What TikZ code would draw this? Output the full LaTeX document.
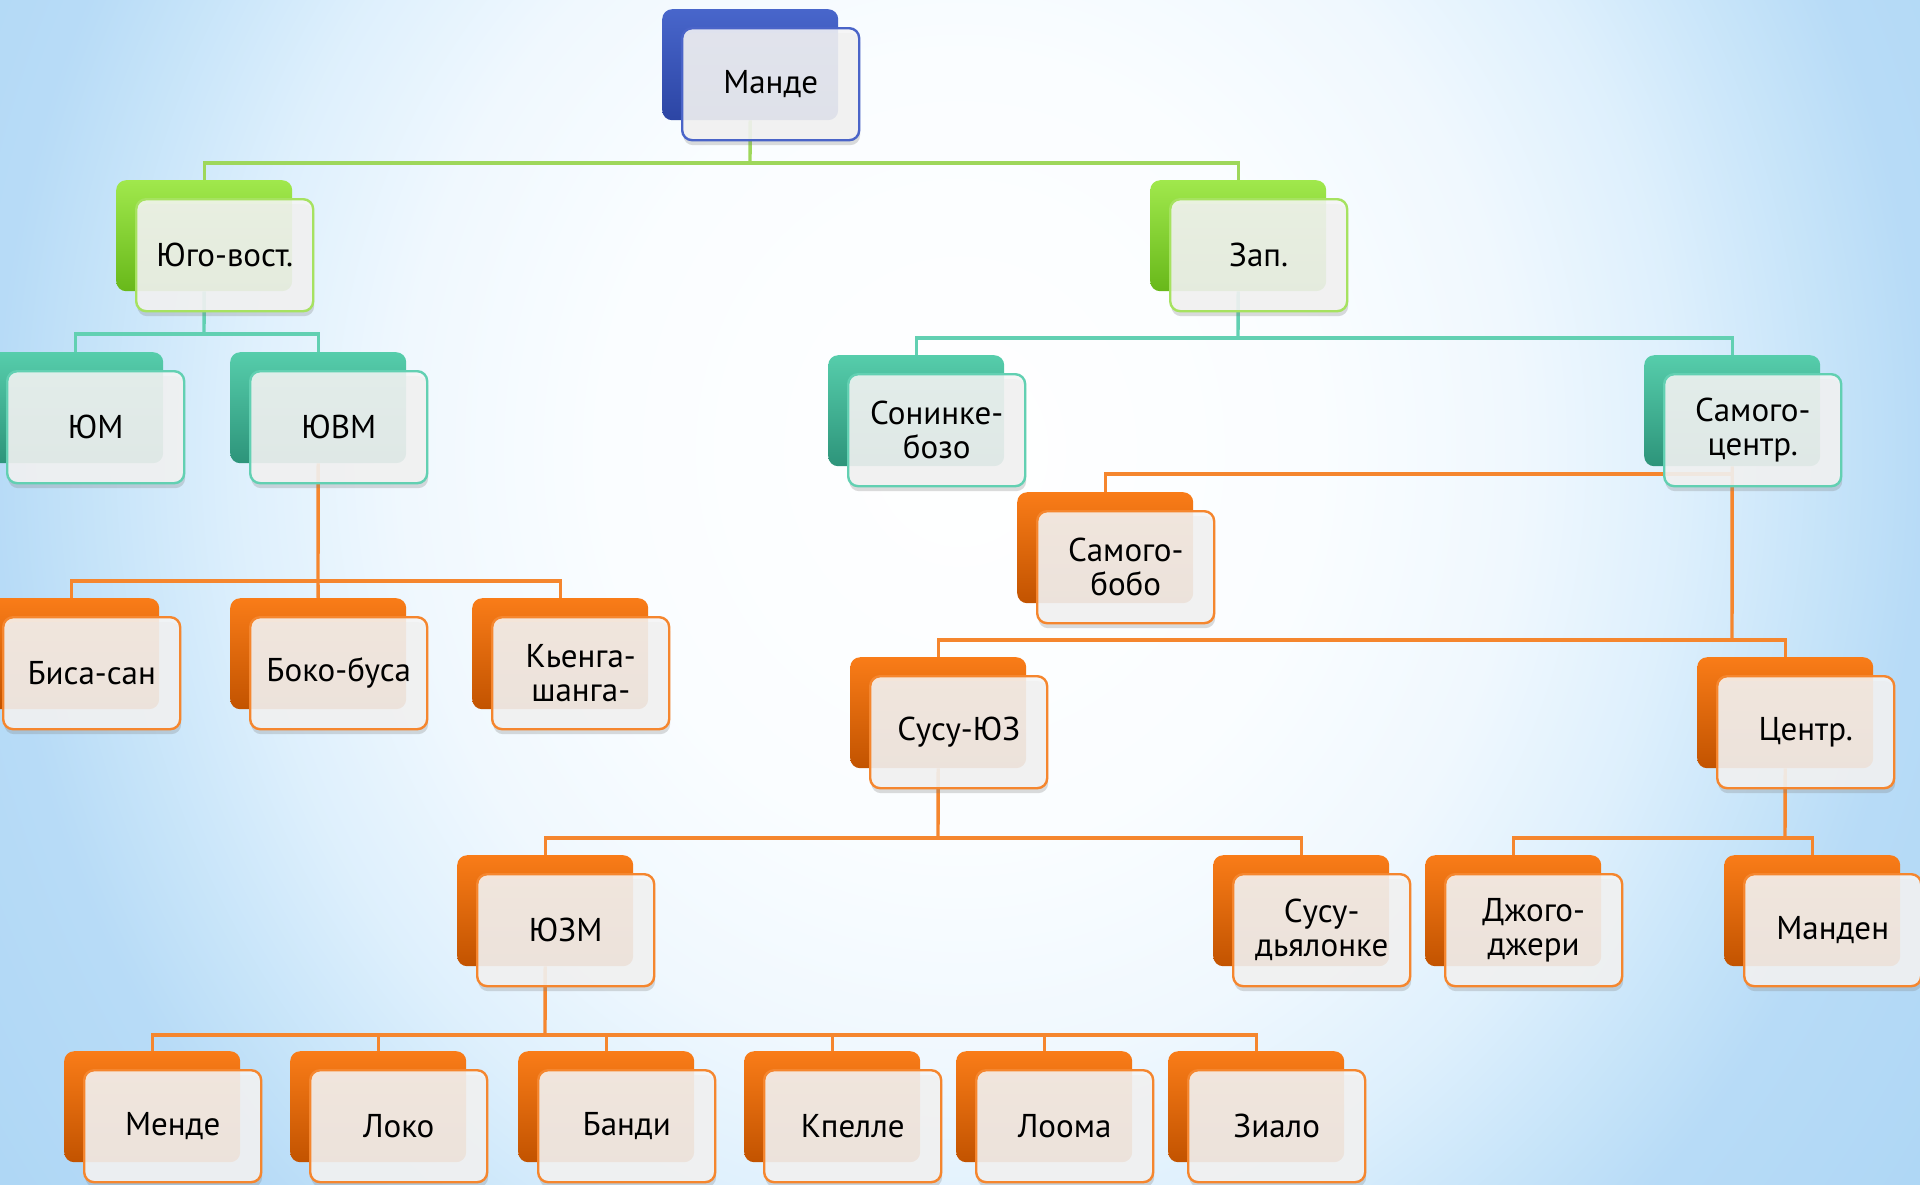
\documentclass[tikz,border=0pt]{standalone}
\usepackage{fontspec}
\setmainfont{PT Sans}
\usetikzlibrary{shadows,fadings}
\pgfdeclarelayer{bglayer}
\pgfdeclarelayer{linelayer}
\pgfsetlayers{bglayer,linelayer,main}
\definecolor{blueT}{HTML}{4866CB}
\definecolor{blueB}{HTML}{2C45A4}
\definecolor{blueL}{HTML}{4A64C8}
\definecolor{greenT}{HTML}{A0E84C}
\definecolor{greenB}{HTML}{68B81A}
\definecolor{greenL}{HTML}{A6E260}
\definecolor{tealT}{HTML}{56CDAB}
\definecolor{tealB}{HTML}{2D947A}
\definecolor{tealL}{HTML}{62D0B2}
\definecolor{oranT}{HTML}{F97C18}
\definecolor{oranB}{HTML}{C25300}
\definecolor{oranL}{HTML}{F5862E}
\definecolor{frontfill}{HTML}{F5F5F5}
\definecolor{bgblue}{HTML}{B8DCF7}
\tikzfading[name=bandfade, top color=transparent!100, middle color=transparent!55, bottom color=transparent!100]
\pgfdeclareradialshading{bgshade}{\pgfpoint{0bp}{0bp}}{rgb(0bp)=(1,1,1); rgb(9bp)=(0.98,0.992,1); rgb(14bp)=(0.94,0.972,0.997); rgb(18bp)=(0.87,0.94,0.99); rgb(21.5bp)=(0.78,0.895,0.977); rgb(24bp)=(0.72,0.86,0.968); rgb(30bp)=(0.68,0.84,0.96); rgb(50bp)=(0.68,0.84,0.96)}
\tikzset{
  bk/.style={anchor=north west, minimum width=176pt, minimum height=111pt, inner sep=0pt, rounded corners=10pt},
  fr/.style={anchor=north west, minimum width=177pt, minimum height=112pt, inner sep=0pt, rounded corners=10pt,
    fill=frontfill, fill opacity=0.88, text opacity=1, line width=2.4pt, align=center,
    font=\fontsize{33}{34}\selectfont,
    drop shadow={opacity=0.28, shadow xshift=1pt, shadow yshift=-5pt}},
  bluebk/.style={top color=blueT, bottom color=blueB},
  bluefr/.style={draw=blueL},
  greenbk/.style={top color=greenT, bottom color=greenB},
  greenfr/.style={draw=greenL},
  tealbk/.style={top color=tealT, bottom color=tealB},
  tealfr/.style={draw=tealL},
  oranbk/.style={top color=oranT, bottom color=oranB},
  oranfr/.style={draw=oranL},
  con/.style={line width=3.4pt},
  gcon/.style={con, draw=greenL!95!black},
  tcon/.style={con, draw=tealL},
  ocon/.style={con, draw=oranL},
}
\newcommand\mkbox[5]{%
  \node[bk,#4bk] (#1b) at (#2,#3) {};
  \node[fr,#4fr] (#1) at (#2+19,#3+18) {#5};}
\begin{document}
\begin{tikzpicture}[x=1pt,y=-1pt]
\useasboundingbox (0,0) rectangle (1920,1184);
\begin{pgfonlayer}{bglayer}
\begin{scope}
\clip (0,0) rectangle (1920,1184);
\shade[shading=bgshade] (-40,-650) rectangle (1960,1550);
\fill[bgblue, path fading=bandfade] (0,950) rectangle (1920,1130);
\end{scope}
\end{pgfonlayer}

\mkbox{mande}{662}{9}{blue}{Манде}
\mkbox{yugo}{116}{180}{green}{Юго-вост.}
\mkbox{zap}{1150}{180}{green}{Зап.}
\mkbox{yum}{-13}{352}{teal}{ЮМ}
\mkbox{yuvm}{230}{352}{teal}{ЮВМ}
\mkbox{sonin}{828}{355}{teal}{Сонинке-\\бозо}
\mkbox{samc}{1644}{355}{teal}{Самого-\\центр.}
\mkbox{samb}{1017}{492}{oran}{Самого-\\бобо}
\mkbox{bisa}{-17}{598}{oran}{Биса-сан}
\mkbox{boko}{230}{598}{oran}{Боко-буса}
\mkbox{kyen}{472}{598}{oran}{Кьенга-\\шанга-}
\mkbox{susu}{850}{657}{oran}{Сусу-ЮЗ}
\mkbox{centr}{1697}{657}{oran}{Центр.}
\mkbox{yuzm}{457}{855}{oran}{ЮЗМ}
\mkbox{susud}{1213}{855}{oran}{Сусу-\\дьялонке}
\mkbox{jogo}{1425}{855}{oran}{Джого-\\джери}
\mkbox{manden}{1724}{855}{oran}{Манден}
\mkbox{mende}{64}{1051}{oran}{Менде}
\mkbox{loko}{290}{1051}{oran}{Локо}
\mkbox{bandi}{518}{1051}{oran}{Банди}
\mkbox{kpelle}{744}{1051}{oran}{Кпелле}
\mkbox{looma}{956}{1051}{oran}{Лоома}
\mkbox{zialo}{1168}{1051}{oran}{Зиало}

\begin{pgfonlayer}{linelayer}
\coordinate (j1) at (750,163);
\draw[gcon] (mandeb.south) -- (j1);
\draw[gcon] (yugob.north) |- (j1) -| (zapb.north);
\coordinate (j2) at (204,334);
\draw[tcon] (yugob.south) -- (j2);
\draw[tcon] (yumb.north) |- (j2) -| (yuvmb.north);
\coordinate (j3) at (1238,338);
\draw[tcon] (zapb.south) -- (j3);
\draw[tcon] (soninb.north) |- (j3) -| (samcb.north);
\coordinate (j4) at (318,581);
\draw[ocon] (yuvmb.south) -- (j4);
\draw[ocon] (bisab.north) |- (j4) -| (kyenb.north);
\draw[ocon] (bokob.north) -- (j4);
\coordinate (j5) at (1732,474);
\coordinate (j6) at (1732,640);
\draw[ocon] (samcb.south) -- (j6);
\draw[ocon] (sambb.north) |- (j5);
\draw[ocon] (susub.north) |- (j6) -| (centrb.north);
\coordinate (j7) at (938,838);
\draw[ocon] (susub.south) -- (j7);
\draw[ocon] (yuzmb.north) |- (j7) -| (susudb.north);
\coordinate (j8) at (1785,838);
\draw[ocon] (centrb.south) -- (j8);
\draw[ocon] (jogob.north) |- (j8) -| (mandenb.north);
\coordinate (j9) at (545,1035);
\draw[ocon] (yuzmb.south) -- (j9);
\draw[ocon] (mendeb.north) |- (j9) -| (zialob.north);
\draw[ocon] (lokob.north) |- (j9);
\draw[ocon] (bandib.north) |- (j9);
\draw[ocon] (kpelleb.north) |- (j9);
\draw[ocon] (loomab.north) |- (j9);
\end{pgfonlayer}
\end{tikzpicture}
\end{document}
